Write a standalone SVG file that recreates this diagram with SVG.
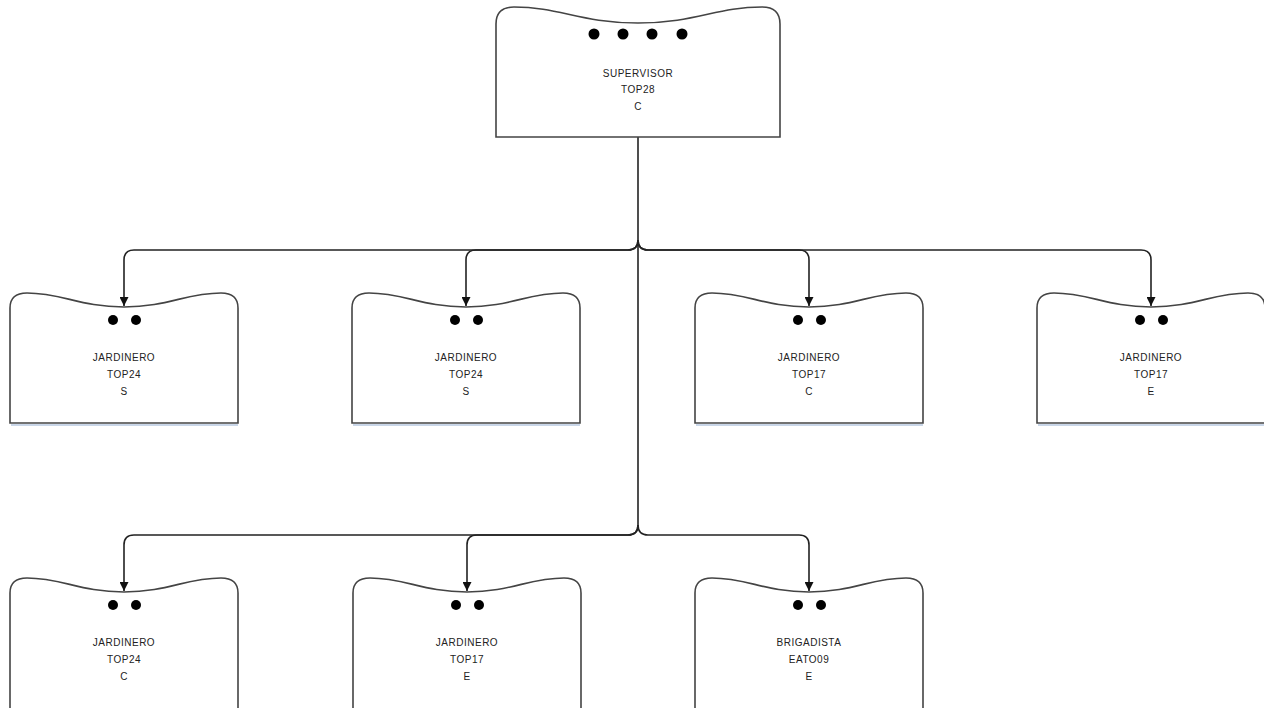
<svg xmlns="http://www.w3.org/2000/svg" width="1264" height="708" viewBox="0 0 1264 708">
<defs>
<style>
.box{fill:#fff;stroke:#444;stroke-width:1.6}
.shadow{fill:none;stroke:#c9d6e8;stroke-width:2}
.dot{fill:#000}
.lbl{font-family:"Liberation Sans",Arial,sans-serif;font-size:10px;letter-spacing:0.5px;fill:#222;text-anchor:middle}
.conn{fill:none;stroke:#222;stroke-width:1.6}
</style>
<marker id="arr" viewBox="0 0 10 10" refX="10" refY="5" markerWidth="9" markerHeight="9" markerUnits="userSpaceOnUse" orient="auto">
<path d="M0,0 L10,5 L0,10 Z" fill="#111"/>
</marker>
</defs>
<rect width="1264" height="708" fill="#fff"/>

<g id="connectors">
<path class="conn" d="M638,137 V525"/>
<path class="conn" d="M638,240 Q638,250 628,250 H134 Q124,250 124,260 V306" marker-end="url(#arr)"/>
<path class="conn" d="M638,240 Q638,250 628,250 H476 Q466,250 466,260 V306" marker-end="url(#arr)"/>
<path class="conn" d="M638,240 Q638,250 648,250 H799 Q809,250 809,260 V306" marker-end="url(#arr)"/>
<path class="conn" d="M638,240 Q638,250 648,250 H1141 Q1151,250 1151,260 V306" marker-end="url(#arr)"/>
<path class="conn" d="M638,525 Q638,535 628,535 H134 Q124,535 124,545 V591" marker-end="url(#arr)"/>
<path class="conn" d="M638,525 Q638,535 628,535 H477 Q467,535 467,545 V591" marker-end="url(#arr)"/>
<path class="conn" d="M638,525 Q638,535 648,535 H799 Q809,535 809,545 V591" marker-end="url(#arr)"/>
</g>

<g id="supervisor">
<path class="box" d="M496,137 V24 Q496,7 514,7 C560,7 580,23 638,23 C696,23 716,7 762,7 Q780,7 780,24 V137 Z"/>
<circle class="dot" cx="594" cy="34" r="5.5"/>
<circle class="dot" cx="623" cy="34" r="5.5"/>
<circle class="dot" cx="652" cy="34" r="5.5"/>
<circle class="dot" cx="682" cy="34" r="5.5"/>
<text class="lbl" x="638" y="77">SUPERVISOR</text>
<text class="lbl" x="638" y="93">TOP28</text>
<text class="lbl" x="638" y="110">C</text>
</g>

<g id="n1">
<path class="shadow" d="M11,425 H238"/>
<path class="box" d="M10,423 V308 Q10,293 27,293 C62,293 80,307 124,307 C168,307 186,293 221,293 Q238,293 238,308 V423 Z"/>
<circle class="dot" cx="113" cy="320" r="5"/>
<circle class="dot" cx="136" cy="320" r="5"/>
<text class="lbl" x="124" y="361">JARDINERO</text>
<text class="lbl" x="124" y="378">TOP24</text>
<text class="lbl" x="124" y="395">S</text>
</g>

<g id="n2">
<path class="shadow" d="M353,425 H580"/>
<path class="box" d="M352,423 V308 Q352,293 369,293 C404,293 422,307 466,307 C510,307 528,293 563,293 Q580,293 580,308 V423 Z"/>
<circle class="dot" cx="455" cy="320" r="5"/>
<circle class="dot" cx="478" cy="320" r="5"/>
<text class="lbl" x="466" y="361">JARDINERO</text>
<text class="lbl" x="466" y="378">TOP24</text>
<text class="lbl" x="466" y="395">S</text>
</g>

<g id="n3">
<path class="shadow" d="M696,425 H923"/>
<path class="box" d="M695,423 V308 Q695,293 712,293 C747,293 765,307 809,307 C853,307 871,293 906,293 Q923,293 923,308 V423 Z"/>
<circle class="dot" cx="798" cy="320" r="5"/>
<circle class="dot" cx="821" cy="320" r="5"/>
<text class="lbl" x="809" y="361">JARDINERO</text>
<text class="lbl" x="809" y="378">TOP17</text>
<text class="lbl" x="809" y="395">C</text>
</g>

<g id="n4">
<path class="shadow" d="M1038,425 H1265"/>
<path class="box" d="M1037,423 V308 Q1037,293 1054,293 C1089,293 1107,307 1151,307 C1195,307 1213,293 1248,293 Q1265,293 1265,308 V423 Z"/>
<circle class="dot" cx="1140" cy="320" r="5"/>
<circle class="dot" cx="1163" cy="320" r="5"/>
<text class="lbl" x="1151" y="361">JARDINERO</text>
<text class="lbl" x="1151" y="378">TOP17</text>
<text class="lbl" x="1151" y="395">E</text>
</g>

<g id="n5">
<path class="box" d="M10,712 V593 Q10,578 27,578 C62,578 80,592 124,592 C168,592 186,578 221,578 Q238,578 238,593 V712 Z"/>
<circle class="dot" cx="113" cy="605" r="5"/>
<circle class="dot" cx="136" cy="605" r="5"/>
<text class="lbl" x="124" y="646">JARDINERO</text>
<text class="lbl" x="124" y="663">TOP24</text>
<text class="lbl" x="124" y="680">C</text>
</g>

<g id="n6">
<path class="box" d="M353,712 V593 Q353,578 370,578 C405,578 423,592 467,592 C511,592 529,578 564,578 Q581,578 581,593 V712 Z"/>
<circle class="dot" cx="456" cy="605" r="5"/>
<circle class="dot" cx="479" cy="605" r="5"/>
<text class="lbl" x="467" y="646">JARDINERO</text>
<text class="lbl" x="467" y="663">TOP17</text>
<text class="lbl" x="467" y="680">E</text>
</g>

<g id="n7">
<path class="box" d="M695,712 V593 Q695,578 712,578 C747,578 765,592 809,592 C853,592 871,578 906,578 Q923,578 923,593 V712 Z"/>
<circle class="dot" cx="798" cy="605" r="5"/>
<circle class="dot" cx="821" cy="605" r="5"/>
<text class="lbl" x="809" y="646">BRIGADISTA</text>
<text class="lbl" x="809" y="663">EATO09</text>
<text class="lbl" x="809" y="680">E</text>
</g>
</svg>
